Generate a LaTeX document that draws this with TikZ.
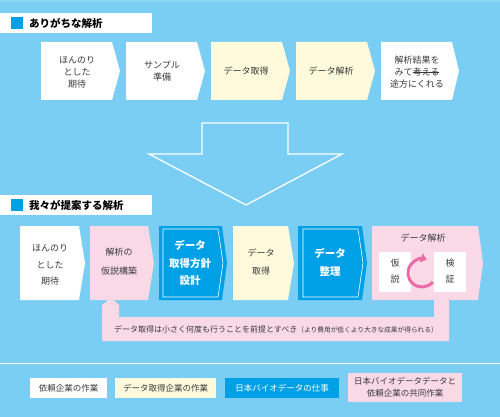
\documentclass[tikz,border=0pt]{standalone}
\usepackage{fontspec}
\setmainfont{Noto Sans CJK JP}
\usetikzlibrary{arrows.meta}
\definecolor{bgblue}{RGB}{122,206,244}
\definecolor{topstrip}{RGB}{142,214,246}
\definecolor{boxblue}{RGB}{0,160,230}
\definecolor{boxyellow}{RGB}{255,250,220}
\definecolor{boxpink}{RGB}{249,217,230}
\definecolor{arrowpink}{RGB}{236,106,165}
\definecolor{txtgray}{RGB}{58,58,58}
\newcommand\mychev[6]{\path[#6] (#1,#2) -- (#4,#2) -- (#5,{(#2+#3)/2}) -- (#4,#3) -- (#1,#3) -- cycle;}
\newcommand\mystrike[1]{\leavevmode\setbox0\hbox{#1}\rlap{\rule[0.32em]{\wd0}{0.7pt}}\box0}
\tikzset{
  txt/.style={text=txtgray, align=center, inner sep=0pt},
  wtxt/.style={text=white, align=center, inner sep=0pt, font=\bfseries\fontsize{10.5}{17.5}\selectfont},
  hdr/.style={text=black, anchor=west, inner sep=0pt, font=\bfseries\fontsize{10.5}{12}\selectfont},
  inline/.style={draw=white, line width=0.6pt},
}
\begin{document}
\begin{tikzpicture}[x=1pt,y=-1pt]
\useasboundingbox (0,0) rectangle (500,417);
\fill[bgblue] (0,0) rectangle (500,417);
\fill[topstrip] (0,0) rectangle (500,2);

% header 1
\fill[white] (0,13) rectangle (152,33);
\fill[boxblue] (11,17) rectangle (23,29);
\node[hdr] (h1) at (29,23) {ありがちな解析};

% top row
\mychev{41}{42}{100}{112}{120}{fill=white}
\mychev{126}{42}{100}{197}{205}{fill=white}
\mychev{211}{42}{100}{282}{290}{fill=boxyellow}
\mychev{296}{42}{100}{367}{375}{fill=boxyellow}
\mychev{381}{42}{100}{452}{459}{fill=white}
\begin{scope}[every node/.append style={font=\fontsize{9}{12}\selectfont}]
\node[txt] (a1) at (77,72) {ほんのり\\とした\\期待};
\node[txt] (a2) at (162,71) {サンプル\\準備};
\node[txt] (a3) at (246,71) {データ取得};
\node[txt] (a4) at (331,71) {データ解析};
\node[txt] (a5) at (417,72) {解析結果を\\みて\mystrike{考える}\\途方にくれる};
\end{scope}

% big arrow
\draw[white, line width=1.3pt, line join=miter]
  (202,123) -- (288,123) -- (288,154) -- (342,154) -- (246,205) -- (149,154) -- (202,154) -- cycle;

% header 2
\fill[white] (0,195) rectangle (152,215);
\fill[boxblue] (11,199) rectangle (23,211);
\node[hdr] (h2) at (29,205) {我々が提案する解析};

% bottom row
\mychev{20}{226}{300}{79}{85}{fill=white}
\mychev{90}{226}{300}{148}{154}{fill=boxpink}
\mychev{159}{226}{300}{222}{227}{fill=boxblue}
\mychev{163}{229}{297}{218}{223}{inline}
\mychev{233}{226}{300}{288}{294}{fill=boxyellow}
\mychev{298}{226}{300}{362}{367}{fill=boxblue}
\mychev{303}{229}{297}{358}{363}{inline}
\mychev{372}{226}{300}{478}{483}{fill=boxpink}

% callout bar
\fill[boxpink] (102,341) -- (102,305) -- (109,299.5) -- (113,299.5) -- (119,305) -- (119,317)
  -- (434,317) -- (434,299) -- (449,299) -- (449,341) -- cycle;

\node[txt, font=\fontsize{9}{16.5}\selectfont] (b1) at (50,265) {ほんのり\\とした\\期待};
\node[txt, font=\fontsize{9}{19}\selectfont] (b2) at (119,262) {解析の\\仮説構築};
\node[wtxt] (b3) at (190,263) {データ\\取得方針\\設計};
\node[txt, font=\fontsize{9}{18}\selectfont] (b4) at (261,262) {データ\\取得};
\node[wtxt, font=\bfseries\fontsize{10.5}{18}\selectfont] (b5) at (330,262) {データ\\整理};
\node[txt, font=\fontsize{9}{12}\selectfont] (b6) at (423,238) {データ解析};

\fill[white] (379,252) rectangle (411,292);
\fill[white] (434,252) rectangle (466,292);
\node[txt, font=\fontsize{9}{16}\selectfont] (k1) at (395,271.5) {仮\\説};
\node[txt, font=\fontsize{9}{16}\selectfont] (k2) at (450,271.5) {検\\証};
\draw[arrowpink, line width=3pt, -{Triangle[length=6pt,width=9pt]}]
  ([shift={(40:14)}]422,273) arc[start angle=40, end angle=290, radius=14];

\node[txt, anchor=west, font=\fontsize{8}{10}\selectfont] (note) at (114,329)
  {データ取得は小さく何度も行うことを前提とすべき{\fontsize{6.7}{8}\selectfont（より費用が低くより大きな成果が得られる）}};

% separator
\draw[white, line width=1pt] (0,363) -- (500,363);

% legend
\fill[white] (30,378) rectangle (107,398);
\fill[boxyellow] (115,378) rectangle (216,398);
\fill[boxblue] (225,378) rectangle (339,398);
\fill[boxpink] (348,373) rectangle (462,402);
\begin{scope}[every node/.append style={font=\fontsize{8.5}{12}\selectfont}]
\node[txt] (l1) at (68.5,388) {依頼企業の作業};
\node[txt] (l2) at (165.5,388) {データ取得企業の作業};
\node[txt, text=white] (l3) at (282,388) {日本バイオデータの仕事};
\node[txt] (l4) at (405,387.5) {日本バイオデータデータと\\依頼企業の共同作業};
\end{scope}
\end{tikzpicture}
\end{document}
